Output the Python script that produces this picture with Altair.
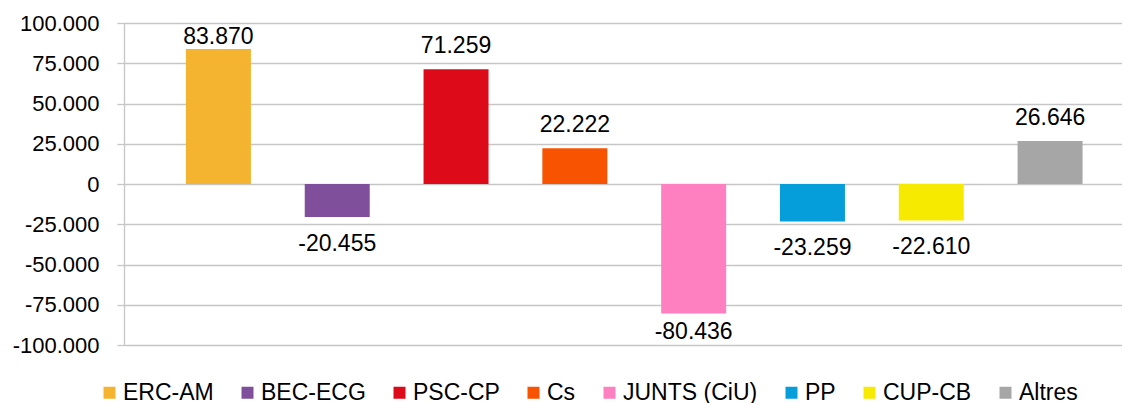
import altair as alt
import pandas as pd

parties = ["ERC-AM", "BEC-ECG", "PSC-CP", "Cs", "JUNTS (CiU)", "PP", "CUP-CB", "Altres"]
values = [83870, -20455, 71259, 22222, -80436, -23259, -22610, 26646]
colors = ["#F4B42F", "#7F4F9B", "#DD0A1A", "#F75300", "#FF80C0", "#069DDB", "#F6EB00", "#A6A6A6"]
y_ticks = [-100000, -75000, -50000, -25000, 0, 25000, 50000, 75000, 100000]

df = pd.DataFrame({"party": parties, "value": values})

FONT = "Liberation Sans"

x_enc = alt.X(
    "party:N",
    sort=parties,
    axis=None,
    scale=alt.Scale(paddingInner=0.453, paddingOuter=0.4266, align=0.611),
)

y_axis = alt.Axis(
    values=y_ticks,
    format=",d",
    title=None,
    grid=True,
    gridColor="#C6C6C6",
    gridWidth=1.3,
    domain=True,
    domainColor="#C6C6C6",
    domainWidth=1.3,
    ticks=True,
    tickColor="#C6C6C6",
    tickWidth=1.3,
    tickSize=7,
    labelFont=FONT,
    labelFontSize=22,
    labelColor="#000000",
    labelPadding=18,
)
y_scale = alt.Scale(domain=[-100000, 100000], nice=False, zero=True)

bars = alt.Chart(df).mark_bar().encode(
    x=x_enc,
    y=alt.Y("value:Q", scale=y_scale, axis=y_axis),
    color=alt.Color(
        "party:N",
        sort=parties,
        scale=alt.Scale(domain=parties, range=colors),
        legend=alt.Legend(
            orient="none",
            legendX=-26,
            legendY=358,
            direction="horizontal",
            columns=8,
            title=None,
            symbolType="square",
            symbolSize=144,
            symbolStrokeWidth=0,
            symbolOpacity=1,
            labelFont=FONT,
            labelFontSize=23,
            labelColor="#000000",
            labelOffset=2,
            columnPadding=22,
            padding=0,
        ),
    ),
)

pos_labels = (
    alt.Chart(df)
    .transform_filter("datum.value >= 0")
    .transform_calculate(lab="min(datum.value, 77000)")
    .mark_text(baseline="alphabetic", dy=-16, fontSize=23, font=FONT, color="#000000")
    .encode(
        x=x_enc,
        y=alt.Y("lab:Q", scale=y_scale, axis=y_axis),
        text=alt.Text("value:Q", format=",d"),
    )
)

neg_labels = (
    alt.Chart(df)
    .transform_filter("datum.value < 0")
    .transform_calculate(lab="max(datum.value, -75000)")
    .mark_text(baseline="alphabetic", dy=34, fontSize=23, font=FONT, color="#000000")
    .encode(
        x=x_enc,
        y=alt.Y("lab:Q", scale=y_scale, axis=y_axis),
        text=alt.Text("value:Q", format=",d"),
    )
)

chart = (
    alt.layer(bars, pos_labels, neg_labels)
    .properties(
        width=998,
        height=322,
        padding={"left": 4, "top": 4, "right": 0, "bottom": 0},
        background="#FFFFFF",
    )
    .configure_view(stroke=None)
    .configure(
        locale={
            "number": {
                "decimal": ",",
                "thousands": ".",
                "grouping": [3],
                "currency": ["", " €"],
                "minus": "-",
            }
        }
    )
)

chart.save("out.html", embed_options={"renderer": "svg", "actions": False})
